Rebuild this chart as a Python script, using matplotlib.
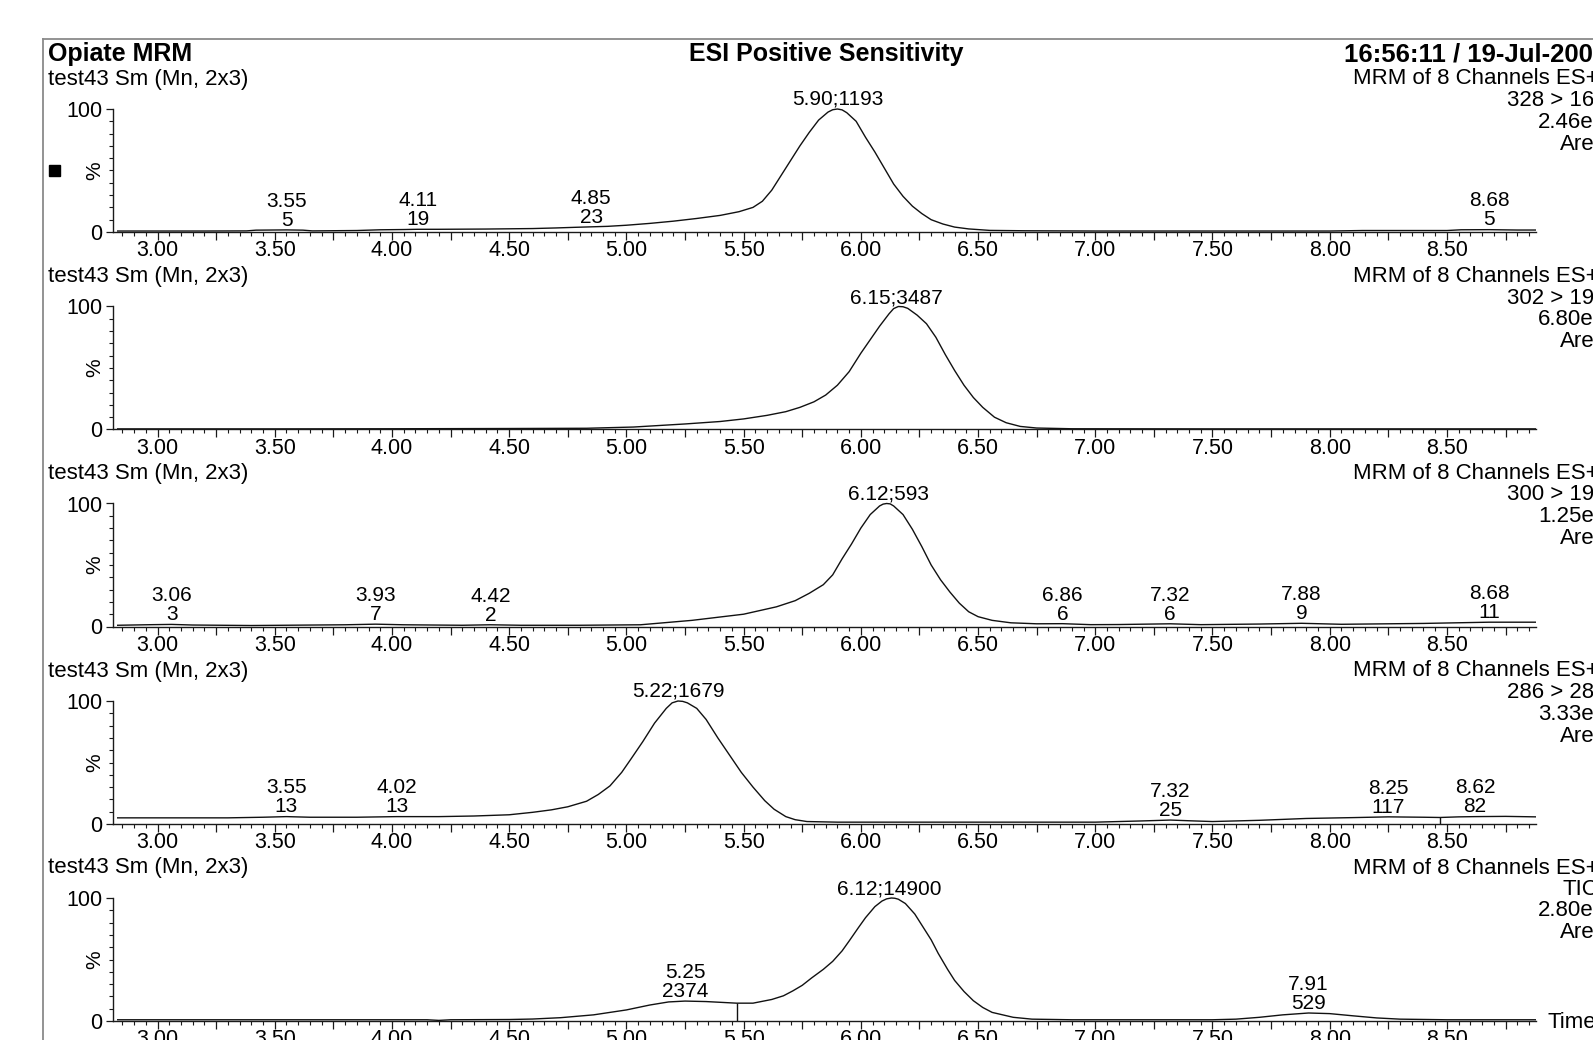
import numpy as np
import matplotlib
matplotlib.use("Agg")
import matplotlib.pyplot as plt
from matplotlib.ticker import MultipleLocator, FixedLocator, FuncFormatter
from matplotlib.patches import Rectangle
from matplotlib.lines import Line2D

plt.rcParams['font.family'] = ['Liberation Sans', 'DejaVu Sans']

# ---------------- data ----------------
p1_rt = [2.83, 3.00, 3.20, 3.38, 3.42, 3.55, 3.62, 3.66, 3.85, 3.95, 4.05, 4.11, 4.20, 4.40, 4.60,
         4.70, 4.78, 4.85, 4.92, 5.00, 5.10, 5.20, 5.30, 5.40, 5.48, 5.54, 5.58, 5.62, 5.66, 5.70,
         5.74, 5.78, 5.82, 5.86, 5.88, 5.90, 5.92, 5.94, 5.98, 6.02, 6.06, 6.10, 6.14, 6.18, 6.22,
         6.26, 6.30, 6.35, 6.40, 6.46, 6.55, 6.70, 7.00, 7.50, 8.00, 8.14, 8.30, 8.50, 8.56, 8.68,
         8.80, 8.88]
p1_pct = [0.8, 0.8, 0.8, 0.9, 1.5, 1.7, 1.5, 0.9, 1.2, 1.8, 2.0, 2.2, 2.2, 2.4, 2.8,
          3.3, 3.8, 4.2, 4.6, 5.5, 7.0, 8.8, 11.0, 13.5, 16.5, 20.0, 25.0, 34.0, 46.0, 58.0,
          70.0, 81.0, 91.0, 97.5, 99.4, 100.0, 99.3, 97.0, 90.0, 77.0, 65.0, 52.0, 39.0, 29.0, 21.0,
          15.0, 10.0, 6.5, 4.0, 2.5, 1.3, 1.0, 0.8, 0.8, 0.8, 1.2, 1.2, 1.2, 1.8, 1.9,
          1.6, 1.6]

p2_rt = [2.83, 3.50, 4.00, 4.50, 4.83, 5.03, 5.25, 5.40, 5.50, 5.60, 5.68, 5.74, 5.80, 5.85, 5.90,
         5.95, 6.00, 6.04, 6.08, 6.12, 6.14, 6.16, 6.18, 6.20, 6.24, 6.28, 6.32, 6.36, 6.40, 6.44,
         6.48, 6.52, 6.57, 6.62, 6.68, 6.75, 6.90, 7.50, 8.00, 8.50, 8.88]
p2_pct = [0.5, 0.5, 0.6, 0.8, 1.0, 2.0, 4.5, 6.5, 8.6, 11.5, 14.5, 18.0, 22.5, 28.0, 36.0,
          47.0, 62.0, 73.0, 84.0, 94.0, 98.3, 100.0, 99.8, 98.5, 93.0, 86.0, 75.0, 61.0, 48.0, 36.0,
          26.0, 18.0, 10.0, 5.5, 2.5, 1.2, 0.6, 0.5, 0.5, 0.5, 0.5]

p3_rt = [2.83, 2.98, 3.06, 3.15, 3.40, 3.80, 3.93, 4.05, 4.30, 4.42, 4.55, 4.80, 5.06, 5.28, 5.50,
         5.64, 5.72, 5.78, 5.84, 5.88, 5.92, 5.96, 6.00, 6.04, 6.08, 6.095, 6.11, 6.125, 6.14, 6.18,
         6.22, 6.26, 6.30, 6.34, 6.38, 6.42, 6.46, 6.50, 6.56, 6.64, 6.75, 6.86, 6.98, 7.10, 7.32,
         7.45, 7.70, 7.88, 8.05, 8.40, 8.68, 8.88]
p3_pct = [1.0, 1.5, 1.7, 1.2, 0.8, 1.4, 1.9, 1.4, 1.0, 1.4, 1.0, 1.0, 1.4, 5.0, 10.0,
          16.0, 21.0, 27.0, 34.0, 42.0, 55.0, 67.0, 80.0, 91.0, 98.0, 99.5, 100.0, 99.7, 98.0, 91.0,
          79.0, 65.0, 50.0, 38.0, 28.0, 19.0, 12.0, 8.0, 5.0, 3.0, 2.2, 2.3, 1.5, 1.6, 2.2,
          1.5, 2.0, 2.6, 1.8, 2.5, 3.5, 3.5]

p4_rt = [2.83, 3.30, 3.45, 3.55, 3.65, 3.85, 4.02, 4.20, 4.35, 4.50, 4.60, 4.68, 4.75, 4.83, 4.88,
         4.93, 4.98, 5.02, 5.07, 5.12, 5.17, 5.195, 5.22, 5.24, 5.26, 5.30, 5.34, 5.39, 5.44, 5.49,
         5.54, 5.59, 5.63, 5.68, 5.72, 5.77, 5.90, 6.30, 7.00, 7.20, 7.32, 7.42, 7.50, 7.70, 7.90,
         8.10, 8.25, 8.40, 8.47, 8.55, 8.62, 8.75, 8.88]
p4_pct = [5.0, 5.0, 5.5, 6.0, 5.5, 5.5, 6.0, 6.0, 6.5, 7.5, 9.5, 11.5, 14.0, 18.5, 24.0,
          31.0, 42.0, 53.0, 67.0, 82.0, 94.0, 98.5, 100.0, 99.7, 98.5, 94.0, 85.0, 70.0, 56.0, 42.0,
          30.0, 19.0, 12.0, 6.0, 3.5, 2.0, 1.5, 1.5, 1.5, 2.5, 3.2, 2.5, 2.0, 3.0, 4.5,
          5.2, 5.8, 5.5, 5.3, 5.8, 6.0, 6.2, 5.8]

p5_rt = [2.83, 3.50, 4.00, 4.15, 4.20, 4.25, 4.50, 4.60, 4.72, 4.86, 5.00, 5.10, 5.18, 5.25, 5.34,
         5.42, 5.47, 5.54, 5.62, 5.67, 5.71, 5.75, 5.79, 5.84, 5.88, 5.92, 5.95, 5.99, 6.02, 6.06,
         6.09, 6.11, 6.13, 6.145, 6.16, 6.19, 6.23, 6.26, 6.30, 6.33, 6.37, 6.40, 6.44, 6.48, 6.52,
         6.56, 6.65, 6.73, 6.90, 7.50, 7.60, 7.70, 7.80, 7.91, 8.00, 8.10, 8.20, 8.30, 8.50, 8.88]
p5_pct = [1.0, 1.0, 1.0, 1.0, 0.5, 1.0, 1.2, 1.6, 2.7, 5.0, 9.0, 13.0, 15.5, 16.2, 15.8,
          15.0, 14.5, 14.5, 17.5, 20.5, 24.5, 29.0, 35.0, 42.0, 48.5, 57.0, 65.0, 76.0, 84.0, 93.0,
          97.5, 99.3, 100.0, 99.8, 99.0, 95.5, 87.0, 78.0, 66.0, 55.0, 42.0, 33.0, 24.0, 16.5, 11.0,
          7.0, 3.0, 1.5, 1.0, 1.0, 1.5, 3.0, 5.0, 6.5, 6.0, 4.2, 2.5, 1.5, 1.0, 1.0]

# main (apex) peak labels
main_rt = [5.90, 6.15, 6.12, 5.22, 6.12]
main_area = ["1193", "3487", "593", "1679", "14900"]

# minor peak labels: (retention time, area)
p1_minor_rt = [3.55, 4.11, 4.85, 8.68]
p1_minor_area = ["5", "19", "23", "5"]
p2_minor_rt = []
p2_minor_area = []
p3_minor_rt = [3.06, 3.93, 4.42, 6.86, 7.32, 7.88, 8.68]
p3_minor_area = ["3", "7", "2", "6", "6", "9", "11"]
p4_minor_rt = [3.55, 4.02, 7.32, 8.25, 8.62]
p4_minor_area = ["13", "13", "25", "117", "82"]
p5_minor_rt = [5.25, 7.91]
p5_minor_area = ["2374", "529"]

# integration drop lines
p4_drop_rt = [8.47]
p5_drop_rt = [5.47]

# channel descriptions
channel_name = ["328 > 165", "302 > 199", "300 > 199", "286 > 286", "TIC"]
channel_max = ["2.46e3", "6.80e3", "1.25e3", "3.33e3", "2.80e4"]

x_tick_labels = ["3.00", "3.50", "4.00", "4.50", "5.00", "5.50", "6.00", "6.50", "7.00", "7.50", "8.00", "8.50"]

traces = [(p1_rt, p1_pct), (p2_rt, p2_pct), (p3_rt, p3_pct), (p4_rt, p4_pct), (p5_rt, p5_pct)]
minors = [(p1_minor_rt, p1_minor_area), (p2_minor_rt, p2_minor_area), (p3_minor_rt, p3_minor_area),
          (p4_minor_rt, p4_minor_area), (p5_minor_rt, p5_minor_area)]
drops = [[], [], [], p4_drop_rt, p5_drop_rt]

# ---------------- layout ----------------
W, H = 1593, 1040
fig = plt.figure(figsize=(W / 100, H / 100), dpi=100)
fig.patch.set_facecolor('white')


def fx(px):
    return px / W


def fy(py):
    return 1 - py / H


XMIN, XMAX = 2.81, 8.88
AX_L, AX_R = 113, 1536
PXPCT = 1.23
YLO, YHI = -3, 106
panel_zero = [232, 429.5, 626.5, 824, 1021]
AXC = '#1a1a1a'


def xfmt(v, pos):
    s = f"{v:.2f}"
    return s if s in x_tick_labels else ""


for i in range(5):
    z = panel_zero[i]
    top_px = z - YHI * PXPCT
    bot_px = z - YLO * PXPCT
    ax = fig.add_axes([fx(AX_L), fy(bot_px), fx(AX_R) - fx(AX_L), (bot_px - top_px) / H])
    ax.patch.set_alpha(0)
    ax.set_xlim(XMIN, XMAX)
    ax.set_ylim(YLO, YHI)
    ax.spines['top'].set_visible(False)
    ax.spines['right'].set_visible(False)
    ax.spines['left'].set_bounds(0, 100)
    ax.spines['bottom'].set_position(('data', 0))
    for s in ('left', 'bottom'):
        ax.spines[s].set_color(AXC)
        ax.spines[s].set_linewidth(1.0)
    ax.xaxis.set_major_locator(MultipleLocator(0.25))
    ax.xaxis.set_minor_locator(MultipleLocator(0.05))
    ax.xaxis.set_major_formatter(FuncFormatter(xfmt))
    ax.tick_params(axis='x', which='major', direction='out', length=5.5, width=0.9, pad=0.5,
                   labelsize=15.5, color=AXC)
    ax.tick_params(axis='x', which='minor', direction='out', length=2.8, width=0.8, color=AXC)
    ax.yaxis.set_major_locator(FixedLocator([0, 100]))
    ax.yaxis.set_minor_locator(FixedLocator(list(range(10, 100, 10))))
    ax.tick_params(axis='y', which='major', direction='out', length=5, width=0.9, pad=2.5,
                   labelsize=15.5, color=AXC)
    ax.tick_params(axis='y', which='minor', direction='out', length=2.8, width=0.8, color=AXC)

    rt, pct = traces[i]
    ax.plot(rt, pct, color='#111111', lw=1.0, solid_joinstyle='round')

    for d in drops[i]:
        ax.vlines(d, 0, np.interp(d, rt, pct), color='#111111', lw=1.0)

    # main peak label
    ax.annotate(f"{main_rt[i]:.2f};{main_area[i]}", xy=(main_rt[i], np.interp(main_rt[i], rt, pct)),
                xytext=(0, 3), textcoords='offset points', ha='center', va='baseline',
                fontsize=15, annotation_clip=False)
    # minor peak labels
    mr, ma = minors[i]
    for r, a in zip(mr, ma):
        ax.annotate(f"{r:.2f}\n{a}", xy=(r, np.interp(r, rt, pct)), xytext=(0, 3),
                    textcoords='offset points', ha='center', va='baseline', fontsize=15,
                    linespacing=1.0, annotation_clip=False)

    # % label
    fig.text(fx(94.5), fy(z - 50 * PXPCT), "%", rotation=90, fontsize=15, ha='center', va='center')

    # headers
    fig.text(fx(48), fy(z - 153), "test43 Sm (Mn, 2x3)", fontsize=16, ha='left', va='center')
    fig.text(fx(1353), fy(z - 153), "MRM of 8 Channels ES+", fontsize=16, ha='left', va='center')
    fig.text(fx(1562.5 if i == 4 else 1507), fy(z - 131.5), channel_name[i], fontsize=16,
             ha='left', va='center')
    fig.text(fx(1538), fy(z - 110), channel_max[i], fontsize=16, ha='left', va='center')
    fig.text(fx(1559.5), fy(z - 88), "Area", fontsize=16, ha='left', va='center')

# title row
fig.text(fx(48), fy(54), "Opiate MRM", fontsize=18, fontweight='bold', ha='left', va='center')
fig.text(fx(826), fy(54), "ESI Positive Sensitivity", fontsize=18, fontweight='bold',
         ha='center', va='center')
fig.text(fx(1344), fy(54), "16:56:11 / 19-Jul-2005", fontsize=18.5, fontweight='bold',
         ha='left', va='center')
fig.text(fx(1548), fy(panel_zero[4] + 2), "Time", fontsize=16, ha='left', va='center')

# outer frame and marker
fig.add_artist(Line2D([fx(43), 1.0], [fy(39), fy(39)], transform=fig.transFigure,
                      color='#8a8a8a', lw=1.3))
fig.add_artist(Line2D([fx(43), fx(43)], [fy(39), 0.0], transform=fig.transFigure,
                      color='#8a8a8a', lw=1.3))
fig.add_artist(Rectangle((fx(48.5), fy(176)), 11 / W, 11 / H, transform=fig.transFigure,
                         color='black'))

fig.savefig("out.png", dpi=100)
